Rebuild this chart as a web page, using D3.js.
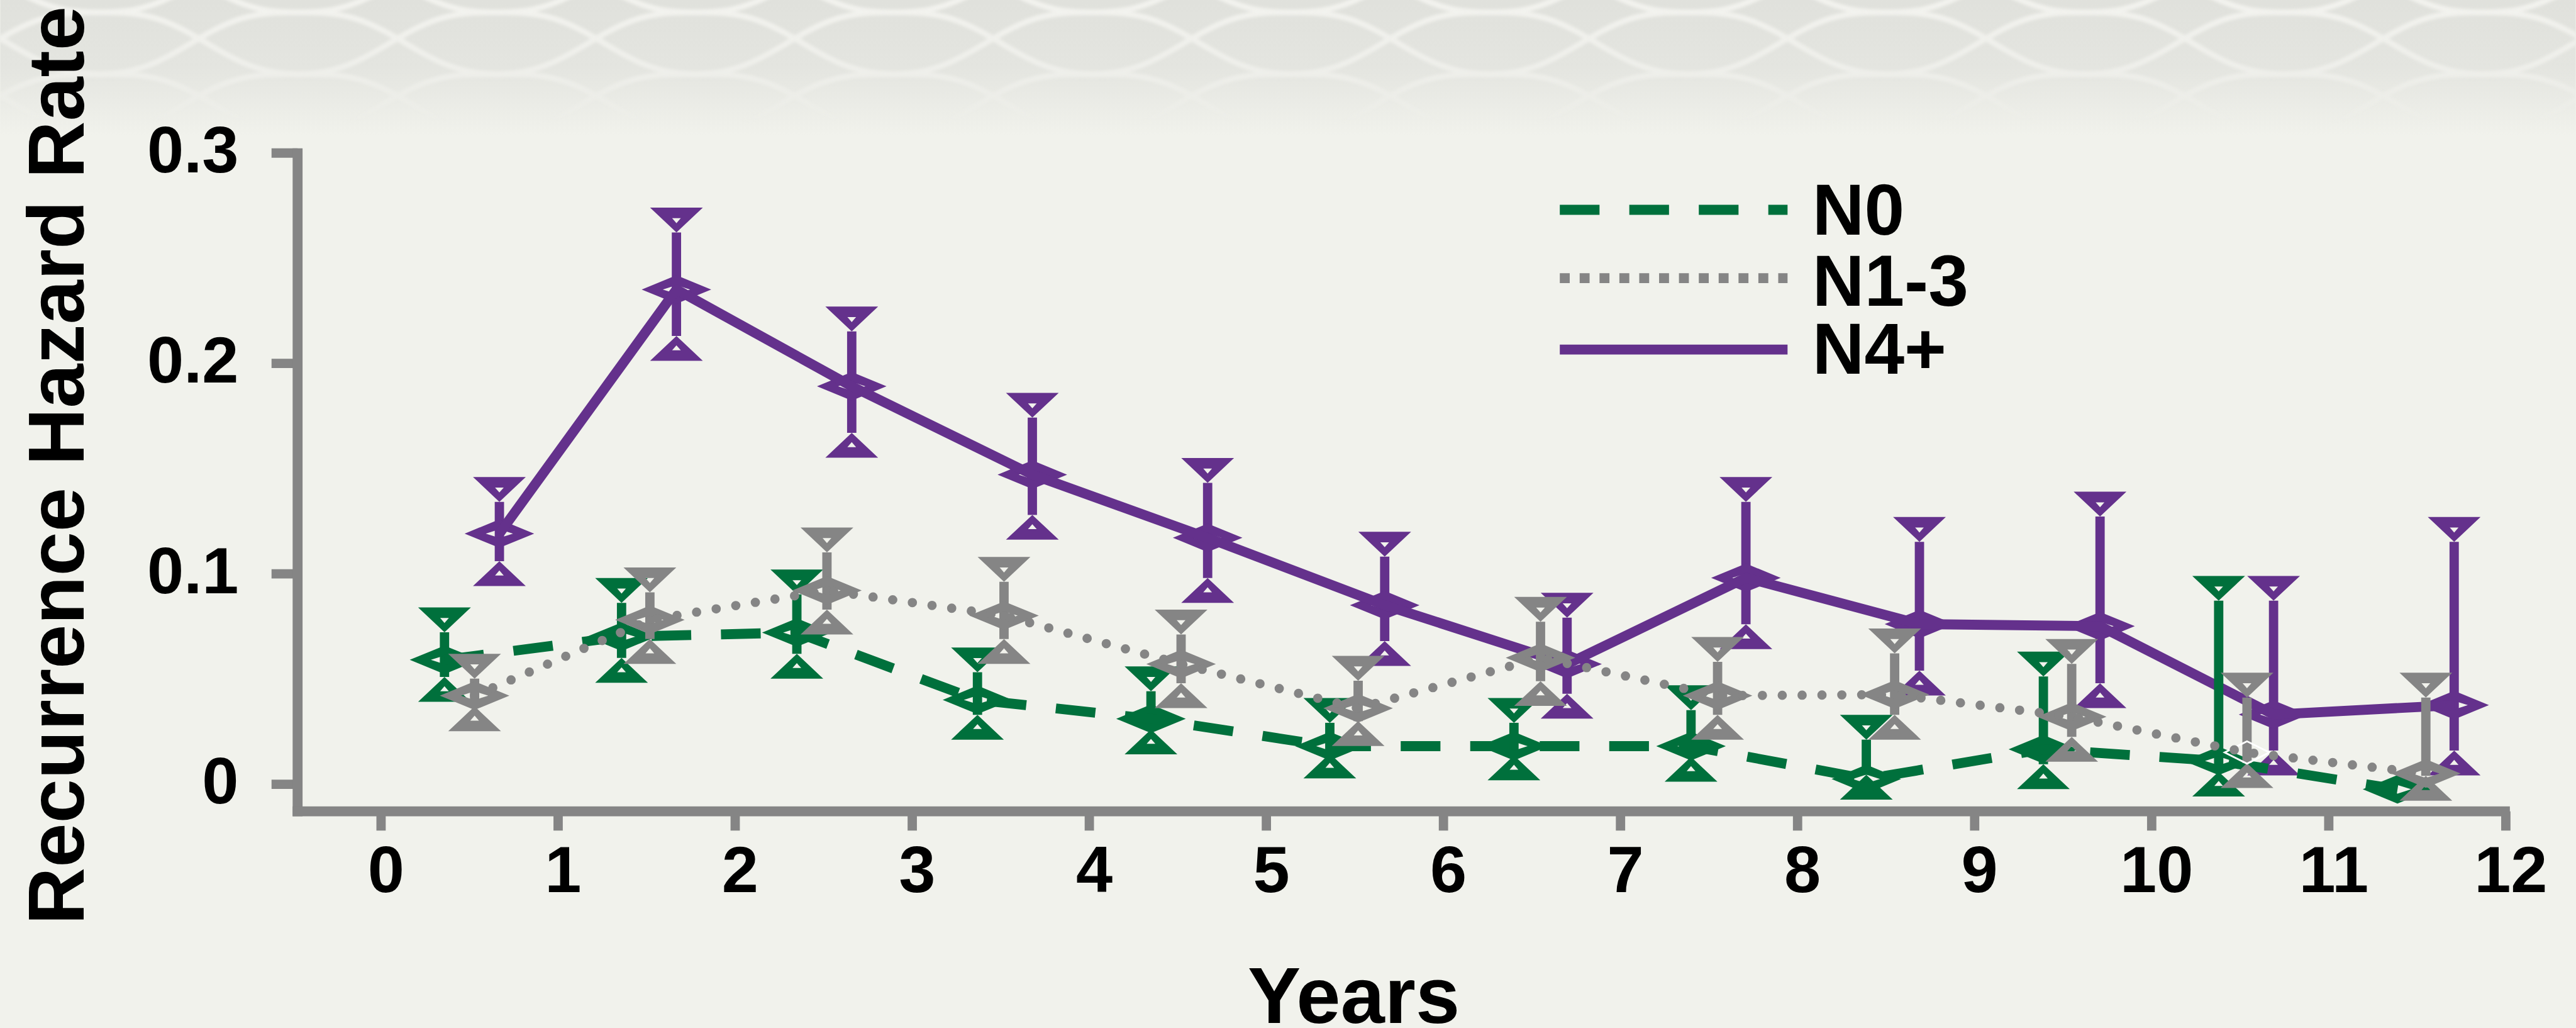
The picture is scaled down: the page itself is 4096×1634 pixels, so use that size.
<!DOCTYPE html>
<html>
<head>
<meta charset="utf-8">
<script src="https://cdn.jsdelivr.net/npm/d3@7"></script>
<style>
  html, body { margin: 0; padding: 0; background: #f1f2ec; overflow: hidden; }
  svg { display: block; }
  text { font-family: "Liberation Sans", Arial, Helvetica, sans-serif; font-weight: bold; fill: #000; }
</style>
</head>
<body>
<svg id="chart"></svg>
<script>
// tick labels
const xTicks = [0, 1, 2, 3, 4, 5, 6, 7, 8, 9, 10, 11, 12];
const xTickLabels = ["0", "1", "2", "3", "4", "5", "6", "7", "8", "9", "10", "11", "12"];
const yTicks = [0, 0.1, 0.2, 0.3];
const yTickLabels = ["0", "0.1", "0.2", "0.3"];

const seriesNames = ["N0", "N1-3", "N4+"];

// N0
const n0Time  = [0.36, 1.36, 2.35, 3.37, 4.35, 5.36, 6.40, 7.40, 8.39, 9.39, 10.38, 11.39];
const n0Rate  = [0.059, 0.070, 0.072, 0.040, 0.031, 0.018, 0.018, 0.018, 0.0024, 0.0165, 0.011, -0.0025];
const n0Upper = [0.078, 0.092, 0.096, 0.059, 0.050, 0.035, 0.035, 0.041, 0.027, 0.057, 0.093, null];
const n0Lower = [0.045, 0.054, 0.056, 0.027, 0.020, 0.0086, 0.0077, 0.007, -0.0015, 0.0035, 0.0, null];

// N1-3
const n13Time  = [0.53, 1.52, 2.52, 3.52, 4.52, 5.52, 6.55, 7.55, 8.55, 9.55, 10.54, 11.55];
const n13Rate  = [0.042, 0.078, 0.092, 0.080, 0.057, 0.036, 0.060, 0.042, 0.0425, 0.032, 0.015, 0.005];
const n13Upper = [0.056, 0.097, 0.116, 0.102, 0.077, 0.055, 0.083, 0.064, 0.068, 0.063, 0.047, 0.047];
const n13Lower = [0.031, 0.063, 0.077, 0.063, 0.042, 0.024, 0.043, 0.027, 0.027, 0.0165, 0.004, -0.002];

// N4+
const n4Time  = [0.67, 1.67, 2.66, 3.68, 4.67, 5.67, 6.70, 7.71, 8.69, 9.71, 10.69, 11.71];
const n4Rate  = [0.119, 0.235, 0.189, 0.147, 0.117, 0.085, 0.057, 0.098, 0.076, 0.075, 0.033, 0.0375];
const n4Upper = [0.140, 0.268, 0.221, 0.180, 0.149, 0.114, 0.085, 0.140, 0.121, 0.133, 0.093, 0.121];
const n4Lower = [0.100, 0.207, 0.161, 0.122, 0.092, 0.062, 0.037, 0.070, 0.048, 0.042, 0.010, 0.010];

const W = 4150, H = 1656;
const green = "#00703c", grey = "#858585", purple = "#64318c";
const bg = "#f1f2ec";

const svg = d3.select("#chart")
    .attr("width", 4096)
    .attr("height", 1634)
    .attr("viewBox", `0 0 ${W} ${H}`);

// background with the net at the top
const defs = svg.append("defs");
const shade = defs.append("linearGradient").attr("id", "topShade")
    .attr("x1", 0).attr("y1", 0).attr("x2", 0).attr("y2", 1);
shade.append("stop").attr("offset", 0).attr("stop-color", "#e0e1dc");
shade.append("stop").attr("offset", 0.5).attr("stop-color", "#e4e5e0");
shade.append("stop").attr("offset", 1).attr("stop-color", bg);

const fade = defs.append("linearGradient").attr("id", "meshFade")
    .attr("gradientUnits", "userSpaceOnUse")
    .attr("x1", 0).attr("y1", 0).attr("x2", 0).attr("y2", 200);
fade.append("stop").attr("offset", 0).attr("stop-color", "#fff").attr("stop-opacity", 0.85);
fade.append("stop").attr("offset", 0.55).attr("stop-color", "#fff").attr("stop-opacity", 0.6);
fade.append("stop").attr("offset", 1).attr("stop-color", "#fff").attr("stop-opacity", 0);
defs.append("mask").attr("id", "meshMask")
    .append("rect").attr("width", W).attr("height", 260).attr("fill", "url(#meshFade)");
defs.append("filter").attr("id", "soft")
    .append("feGaussianBlur").attr("stdDeviation", 2.5);

svg.append("rect").attr("width", W).attr("height", H).attr("fill", bg);
svg.append("rect").attr("width", W).attr("height", 220).attr("fill", "url(#topShade)");

const mesh = svg.append("g")
    .attr("mask", "url(#meshMask)")
    .append("g")
    .attr("filter", "url(#soft)")
    .attr("fill", "none")
    .attr("stroke", "#f6f6f2")
    .attr("stroke-width", 9);
const wavy = d3.line().curve(d3.curveBasis);
d3.range(-1600, W + 1600, 320).forEach(x0 => {
    [1, -1].forEach(dir => {
        const pts = d3.range(0, 1.001, 0.05).map(s => [
            x0 + dir * s * 1000,
            -30 + s * 300 + 18 * Math.sin(s * Math.PI * 6)
        ]);
        mesh.append("path").attr("d", wavy(pts));
    });
});

// scales
const x = d3.scaleLinear().domain([0, 12]).range([613, 4037]);
const y = d3.scaleLinear().domain([0, 0.3]).range([1263, 246]);
const axisY = 1307, axisX = 479;

// x axis
const xAxis = svg.append("g")
    .attr("transform", `translate(0, ${axisY})`)
    .call(d3.axisBottom(x).tickValues(xTicks).tickFormat((d, i) => xTickLabels[i])
        .tickSize(31).tickPadding(24));
xAxis.attr("font-size", 106).attr("font-family", null);
xAxis.select(".domain").remove();
xAxis.selectAll(".tick line").attr("stroke", grey).attr("stroke-width", 15);
xAxis.selectAll(".tick text").attr("dx", 8);

// y axis
const yAxis = svg.append("g")
    .attr("transform", `translate(${axisX}, 0)`)
    .call(d3.axisLeft(y).tickValues(yTicks).tickFormat((d, i) => yTickLabels[i])
        .tickSize(42).tickPadding(53));
yAxis.attr("font-size", 106).attr("font-family", null);
yAxis.select(".domain").remove();
yAxis.selectAll(".tick line").attr("stroke", grey).attr("stroke-width", 15);
yAxis.selectAll(".tick text").attr("dy", "0.29em");

svg.append("line")
    .attr("x1", axisX).attr("x2", axisX)
    .attr("y1", 239).attr("y2", axisY + 8)
    .attr("stroke", grey).attr("stroke-width", 16);
svg.append("line")
    .attr("x1", axisX - 8).attr("x2", 4044)
    .attr("y1", axisY).attr("y2", axisY)
    .attr("stroke", grey).attr("stroke-width", 16);

// axis titles
svg.append("text")
    .attr("transform", "translate(134, 750) rotate(-90)")
    .attr("text-anchor", "middle")
    .attr("font-size", 128)
    .text("Recurrence Hazard Rate");

svg.append("text")
    .attr("x", 2181).attr("y", 1648)
    .attr("text-anchor", "middle")
    .attr("font-size", 128)
    .text("Years");

// markers
const capW = 85, capH = 40;
const capDown = (cx, cy) =>
    `M${cx - capW / 2},${cy - capH / 2}L${cx + capW / 2},${cy - capH / 2}L${cx},${cy + capH / 2}Z` +
    `M${cx - 7},${cy - 3}L${cx + 7},${cy - 3}L${cx},${cy + 5}Z`;
const capUp = (cx, cy) =>
    `M${cx - capW / 2},${cy + capH / 2}L${cx + capW / 2},${cy + capH / 2}L${cx},${cy - capH / 2}Z` +
    `M${cx - 7},${cy + 3}L${cx + 7},${cy + 3}L${cx},${cy - 5}Z`;
const diamond = (cx, cy) =>
    `M${cx - 56},${cy}L${cx},${cy - 23}L${cx + 56},${cy}L${cx},${cy + 23}Z` +
    `M${cx - 22},${cy}L${cx},${cy - 7}L${cx + 22},${cy}L${cx},${cy + 7}Z`;

const series = [
    { name: seriesNames[0], time: n0Time, rate: n0Rate, upper: n0Upper, lower: n0Lower,
      color: green, dash: "64 48", cap: "butt", legendDash: "64 48" },
    { name: seriesNames[1], time: n13Time, rate: n13Rate, upper: n13Upper, lower: n13Lower,
      color: grey, dash: "0 32", cap: "round", legendDash: "16 16" },
    { name: seriesNames[2], time: n4Time, rate: n4Rate, upper: n4Upper, lower: n4Lower,
      color: purple, dash: null, cap: "butt", legendDash: null }
];

const line = d3.line().x(d => x(d.t)).y(d => y(d.v));

function drawSeries(s) {
    const pts = s.time.map((t, i) => ({ t, v: s.rate[i], hi: s.upper[i], lo: s.lower[i], i }));
    const bars = pts.filter(p => p.hi != null);
    const g = svg.append("g");

    g.selectAll(".err").data(bars).join("line")
        .attr("x1", p => x(p.t)).attr("x2", p => x(p.t))
        .attr("y1", p => y(p.hi) + capH / 2)
        .attr("y2", p => Math.max(y(p.hi) + capH / 2, y(p.lo) - capH / 2))
        .attr("stroke", s.color).attr("stroke-width", 15);

    g.selectAll(".capTop").data(bars).join("path")
        .attr("d", p => capDown(x(p.t), y(p.hi)))
        .attr("fill", s.color).attr("fill-rule", "evenodd");
    g.selectAll(".capBot").data(bars).join("path")
        .attr("d", p => capUp(x(p.t), y(p.lo)))
        .attr("fill", s.color).attr("fill-rule", "evenodd");

    // one N1-3 marker shows only as a thin white outline in the original
    const whiteIdx = s.name === "N1-3" ? 10 : -1;
    g.selectAll(".mark").data(pts).join("path")
        .attr("d", p => p.i === whiteIdx
            ? `M${x(p.t) - 36},${y(p.v)}L${x(p.t)},${y(p.v) - 18}L${x(p.t) + 36},${y(p.v)}L${x(p.t)},${y(p.v) + 18}Z`
            : diamond(x(p.t), y(p.v)))
        .attr("fill", p => p.i === whiteIdx ? "none" : s.color)
        .attr("stroke", p => p.i === whiteIdx ? "#ffffff" : "none")
        .attr("stroke-width", 3)
        .attr("fill-rule", "evenodd");

    g.append("path")
        .attr("d", line(pts))
        .attr("fill", "none")
        .attr("stroke", s.color)
        .attr("stroke-width", s.dash === "0 32" ? 15 : 16)
        .attr("stroke-dasharray", s.dash)
        .attr("stroke-linecap", s.cap)
        .attr("stroke-linejoin", "round");
}

// drawing order: N4+ underneath, then N0, then N1-3
[series[2], series[0], series[1]].forEach(drawSeries);

// legend
const legendY = [338, 448, 563];
const legendBase = [378, 493, 602];
const legend = svg.append("g");
series.forEach((s, i) => {
    legend.append("line")
        .attr("x1", 2513).attr("x2", 2880)
        .attr("y1", legendY[i]).attr("y2", legendY[i])
        .attr("stroke", s.color).attr("stroke-width", 16)
        .attr("stroke-dasharray", s.legendDash);
    legend.append("text")
        .attr("x", 2920).attr("y", legendBase[i])
        .attr("font-size", 116)
        .text(s.name);
});
</script>
</body>
</html>
